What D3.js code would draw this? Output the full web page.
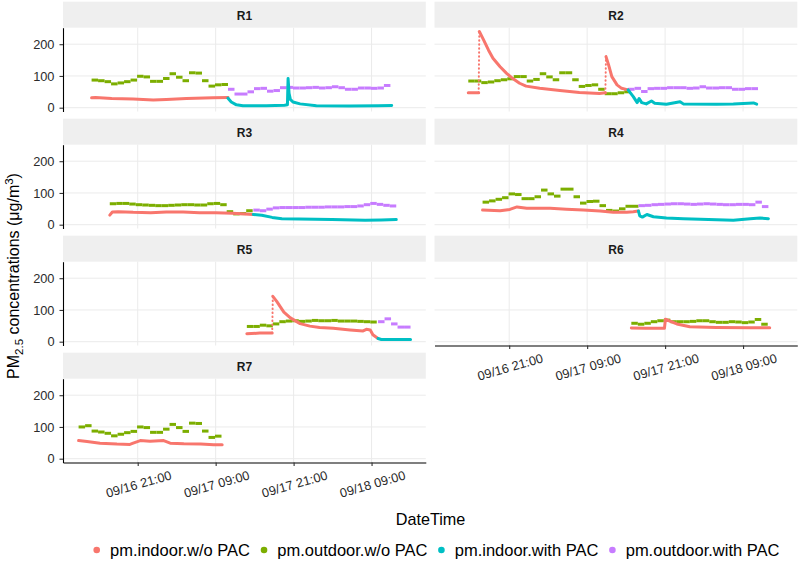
<!DOCTYPE html>
<html>
<head>
<meta charset="utf-8">
<script src="https://cdn.jsdelivr.net/npm/d3@7"></script>
<style>
  body { margin: 0; background: #fff; }
  svg { display: block; }
  text { font-family: "Liberation Sans", Arial, Helvetica, sans-serif; }
</style>
</head>
<body>
<svg id="chart" width="800" height="561"></svg>
<script>
// ---------------- DATA ----------------
const panelNames = ["R1", "R2", "R3", "R4", "R5", "R6", "R7"];
const seriesNames = ["pm.indoor.w/o PAC", "pm.outdoor.w/o PAC", "pm.indoor.with PAC", "pm.outdoor.with PAC"];
const seriesColors = ["#F8766D", "#7CAE00", "#00BFC4", "#C77CFF"];
const yTickValues = [0, 100, 200];
const xTickHours = [21, 33, 45, 57];              // hours after 2018-09-16 00:00
const xTickLabels = ["09/16 21:00", "09/17 09:00", "09/17 21:00", "09/18 09:00"];

// indoor series: [hours after 09/16 00:00, PM2.5]
const indoorWoR1 = [[13.9,31],[14.5,32],[17,29],[20.3,27],[23.4,24],[25.4,26],[28.5,29],[32.6,31],[34.9,32]];
const indoorWithR1 = [[34.9,30],[35.4,18],[36.2,9],[37.2,6],[40.8,6],[43.6,8],[44.05,9],[44.15,92],[44.3,45],[44.5,26],[44.9,18],[46,12],[48.5,6],[53.6,5],[58,6],[60.1,7]];
const indoorWoR2 = [[14.7,47],[16.3,47],[16.4,240],[17.0,216],[17.8,182],[18.5,156],[19.6,129],[20.6,108],[21.6,91],[22.6,77],[23.6,68],[25.7,61],[28.8,54],[31.8,48],[34.9,45],[35.8,47],[35.9,161],[36.3,135],[36.8,98],[37.6,72],[38.3,61],[39.3,56]];
const indoorWithR2 = [[39.3,56],[40.1,35],[40.7,16],[41.0,29],[41.4,16],[42.1,12],[42.9,21],[43.4,14],[45.2,11],[47.3,19],[47.8,12],[52.9,11],[55.5,12],[58.6,15],[59.1,11]];
const indoorWoR3 = [[16.7,30],[17.1,40],[18,41],[20.3,39],[23,38],[25.4,40],[28,40],[30.5,38],[33,38],[35.6,36],[37.5,34],[38.8,32]];
const indoorWithR3 = [[38.8,32],[40.1,30],[41.7,23],[43.2,19],[45.8,18],[50.9,16],[56.0,14],[58.5,15],[60.8,16]];
const indoorWoR4 = [[16.9,46],[19.6,44],[21.1,48],[22.2,56],[23.7,52],[27.3,52],[29.8,49],[32.4,46],[35.0,43],[37.0,39],[39.1,39],[40.1,41],[40.9,43]];
const indoorWithR4 = [[40.9,43],[41.1,28],[41.5,24],[42.2,32],[43.2,25],[45.2,21],[47.8,19],[50.4,17],[55.5,14],[58.1,19],[59.6,21],[60.9,19]];
const indoorWoR5 = [[37.8,25],[39.8,27],[41.7,27],[41.8,143],[42.4,127],[43.5,93],[44.5,75],[46.0,57],[47.5,49],[49.0,45],[51.1,42],[53.7,37],[55.7,34],[56.2,39],[56.8,37],[57.2,22],[58.0,10]];
const indoorWithR5 = [[58.0,10],[58.5,7],[60,7],[63.0,7]];
const indoorWoR6 = [[39.8,43],[42,42],[44.9,42],[45.05,71],[45.6,66],[46.8,56],[48.8,47],[52.9,45],[58.1,44],[61.1,44]];
const indoorWoR7 = [[11.9,57],[13.2,54],[15.2,49],[17.8,46],[19.8,45],[20.3,49],[21.4,57],[22.9,55],[25.0,57],[26.0,49],[28.1,47],[30.7,46],[32.7,44],[34.0,44]];

// outdoor series: hourly values, first hour given separately
const outdoorWoR1Start = 13.9;
const outdoorWoR1 = [87,85,82,75,78,82,87,99,97,83,83,92,107,96,85,110,109,85,68,72,73];
const outdoorWithR1Start = 34.9;
const outdoorWithR1 = [58,43,43,50,60,61,52,54,63,64,62,62,63,64,62,63,66,63,58,58,62,62,61,62,70];
const outdoorWoR2Start = 14.7;
const outdoorWoR2 = [84,84,79,81,85,88,91,98,98,84,89,107,97,88,110,110,88,67,70,72,58,44,44,47,50];
const outdoorWithR2Start = 39.3;
const outdoorWithR2 = [58,61,51,60,61,61,63,63,63,61,62,66,62,62,63,63,58,58,60,60];
const outdoorWoR3Start = 16.7;
const outdoorWoR3 = [66,67,67,65,63,62,61,60,60,61,62,63,63,62,62,66,67,63,41,34,35,44];
const outdoorWithR3Start = 38.8;
const outdoorWithR3 = [46,44,49,53,54,54,54,54,55,55,55,56,56,56,57,57,59,63,67,64,61,59];
const outdoorWoR4Start = 16.9;
const outdoorWoR4 = [71,75,80,85,97,95,82,82,88,109,97,90,112,112,88,68,73,74,60,45,43,50,58,58];
const outdoorWithR4Start = 40.9;
const outdoorWithR4 = [60,61,63,64,65,66,66,65,64,65,66,65,64,63,63,64,64,63,71,57];
const outdoorWoR5Start = 37.8;
const outdoorWoR5 = [48,48,52,50,56,63,65,66,64,65,67,66,66,67,65,65,65,64,63,62];
const outdoorWithR5Start = 58.0;
const outdoorWithR5 = [63,72,56,46,46];
const outdoorWoR6Start = 39.8;
const outdoorWoR6 = [58,55,58,63,66,68,63,63,63,64,66,66,63,61,61,63,62,60,62,70,55];
const outdoorWoR7Start = 11.9;
const outdoorWoR7 = [100,104,87,84,80,72,77,82,86,100,98,83,83,93,108,98,86,112,111,87,67,71];

// ---------------- TABLE BUILT FROM ARRAYS ----------------
const panelTable = [
  { name: "R1", indoorWo: indoorWoR1, indoorWith: indoorWithR1, outWo: [outdoorWoR1Start, outdoorWoR1], outWith: [outdoorWithR1Start, outdoorWithR1] },
  { name: "R2", indoorWo: indoorWoR2, indoorWith: indoorWithR2, outWo: [outdoorWoR2Start, outdoorWoR2], outWith: [outdoorWithR2Start, outdoorWithR2] },
  { name: "R3", indoorWo: indoorWoR3, indoorWith: indoorWithR3, outWo: [outdoorWoR3Start, outdoorWoR3], outWith: [outdoorWithR3Start, outdoorWithR3] },
  { name: "R4", indoorWo: indoorWoR4, indoorWith: indoorWithR4, outWo: [outdoorWoR4Start, outdoorWoR4], outWith: [outdoorWithR4Start, outdoorWithR4] },
  { name: "R5", indoorWo: indoorWoR5, indoorWith: indoorWithR5, outWo: [outdoorWoR5Start, outdoorWoR5], outWith: [outdoorWithR5Start, outdoorWithR5] },
  { name: "R6", indoorWo: indoorWoR6, indoorWith: null, outWo: [outdoorWoR6Start, outdoorWoR6], outWith: null },
  { name: "R7", indoorWo: indoorWoR7, indoorWith: null, outWo: [outdoorWoR7Start, outdoorWoR7], outWith: null }
];

// ---------------- LAYOUT ----------------
const t0 = new Date(2018, 8, 16, 0, 0, 0);
const toDate = h => new Date(t0.getTime() + h * 3600e3);

const colX = [63, 434.5];
const panelW = 362.8;
const rowTop = r => 1.7 + r * 117;
const stripH = 26;
const panelH = 83.8;
const lineW = 3;

const x = d3.scaleTime().domain([toDate(9.5), toDate(65.35)]).range([0, panelW]);
const y = d3.scaleLinear().domain([-12, 252]).range([panelH, 0]);

const svg = d3.select("#chart");
svg.append("rect").attr("width", 800).attr("height", 561).attr("fill", "#fff");

const lineGen = d3.line().x(d => x(toDate(d[0]))).y(d => y(d[1]));

// split an indoor series at very large sudden jumps (shown as sparse dots)
function splitAtJumps(data) {
  const runs = [[data[0]]], jumps = [];
  for (let k = 1; k < data.length; k++) {
    const a = data[k - 1], b = data[k];
    if (b[0] - a[0] < 0.25 && Math.abs(b[1] - a[1]) > 100) {
      jumps.push([a, b]);
      runs.push([b]);
    } else {
      runs[runs.length - 1].push(b);
    }
  }
  return { runs, jumps };
}

panelTable.forEach((p, i) => {
  const col = i % 2, row = Math.floor(i / 2);
  const gx = colX[col], gy = rowTop(row);
  const g = svg.append("g").attr("transform", `translate(${gx},${gy})`);

  // strip
  g.append("rect").attr("x", 0).attr("y", 0).attr("width", panelW).attr("height", stripH).attr("fill", "#EFEFEF");
  g.append("text").attr("x", panelW / 2).attr("y", stripH / 2 + 1).attr("dy", "0.35em")
    .attr("text-anchor", "middle").attr("font-size", "12px").attr("font-weight", "bold")
    .attr("fill", "#1a1a1a").text(p.name);

  const pg = g.append("g").attr("transform", `translate(0,${stripH})`);

  // grid
  pg.selectAll("line.hgrid").data(yTickValues).enter().append("line")
    .attr("x1", 0).attr("x2", panelW).attr("y1", d => y(d)).attr("y2", d => y(d))
    .attr("stroke", "#EBEBEB").attr("stroke-width", 1);
  pg.selectAll("line.vgrid").data(xTickHours).enter().append("line")
    .attr("x1", d => x(toDate(d))).attr("x2", d => x(toDate(d)))
    .attr("y1", 0).attr("y2", panelH)
    .attr("stroke", "#EBEBEB").attr("stroke-width", 1);

  // outdoor hourly values (horizontal segments)
  const drawOutdoor = (spec, color) => {
    if (!spec) return;
    const [start, vals] = spec;
    pg.append("g").selectAll("line").data(vals).enter().append("line")
      .attr("x1", (d, k) => x(toDate(start + k)))
      .attr("x2", (d, k) => x(toDate(start + k + 1)))
      .attr("y1", d => y(d)).attr("y2", d => y(d))
      .attr("stroke", color).attr("stroke-width", lineW);
  };
  const drawIndoor = (data, color) => {
    if (!data) return;
    const { runs, jumps } = splitAtJumps(data);
    runs.forEach(run => {
      pg.append("path").datum(run).attr("d", lineGen)
        .attr("fill", "none").attr("stroke", color).attr("stroke-width", lineW)
        .attr("stroke-linejoin", "round").attr("stroke-linecap", "round");
    });
    jumps.forEach(jp => {
      pg.append("path").datum(jp).attr("d", lineGen)
        .attr("fill", "none").attr("stroke", color).attr("stroke-width", 2)
        .attr("stroke-linecap", "round").attr("stroke-dasharray", "0.5,3.5");
    });
  };
  drawOutdoor(p.outWo, seriesColors[1]);
  drawOutdoor(p.outWith, seriesColors[3]);
  drawIndoor(p.indoorWo, seriesColors[0]);
  drawIndoor(p.indoorWith, seriesColors[2]);

  // y axis on left column
  if (col === 0) {
    const ya = pg.append("g").call(d3.axisLeft(y).tickValues(yTickValues).tickSize(3.5).tickPadding(5).tickSizeOuter(0));
    ya.select(".domain").attr("stroke", "#000").attr("stroke-width", 1.1);
    ya.selectAll(".tick line").attr("stroke", "#333").attr("stroke-width", 1.1);
    ya.selectAll(".tick text").attr("font-size", "12.8px").attr("fill", "#2b2b2b")
      .style("font-family", '"Liberation Sans", Arial, sans-serif');
  }
  // x axis on bottom panel of each column
  if (p.name === "R6" || p.name === "R7") {
    const xa = pg.append("g").attr("transform", `translate(0,${panelH})`)
      .call(d3.axisBottom(x).tickValues(xTickHours.map(toDate)).tickFormat((d, k) => xTickLabels[k])
        .tickSize(3.5).tickSizeOuter(0));
    xa.select(".domain").attr("stroke", "#000").attr("stroke-width", 1.1);
    xa.selectAll(".tick line").attr("stroke", "#333").attr("stroke-width", 1.1);
    xa.selectAll(".tick text").attr("font-size", "12.8px").attr("fill", "#2b2b2b")
      .style("font-family", '"Liberation Sans", Arial, sans-serif')
      .attr("y", 0).attr("dy", "0.35em").attr("text-anchor", "middle")
      .attr("transform", "translate(0.5,21.5) rotate(-16)");
  }
});

// axis titles
const yTitle = svg.append("text").attr("transform", "translate(19,276) rotate(-90)")
  .attr("text-anchor", "middle").attr("font-size", "16px").attr("fill", "#000");
yTitle.append("tspan").text("PM");
yTitle.append("tspan").attr("font-size", "11.5px").attr("dy", "3.5").text("2.5");
yTitle.append("tspan").attr("dy", "-3.5").text(" concentrations (\u03BCg/m");
yTitle.append("tspan").attr("font-size", "11.5px").attr("dy", "-6").text("3");
yTitle.append("tspan").attr("dy", "6").text(")");

svg.append("text").attr("x", 430.5).attr("y", 525).attr("text-anchor", "middle")
  .attr("font-size", "16.2px").attr("fill", "#000").text("DateTime");

// legend
let lx = 96.7;
const legendY = 550;
seriesNames.forEach((name, k) => {
  svg.append("circle").attr("cx", lx).attr("cy", legendY).attr("r", 3.3).attr("fill", seriesColors[k]);
  const t = svg.append("text").attr("x", lx + 13.3).attr("y", legendY + 5.8)
    .attr("font-size", "16.5px").attr("fill", "#000").text(name);
  lx = lx + 13.3 + t.node().getComputedTextLength() + 14;
});
</script>
</body>
</html>
